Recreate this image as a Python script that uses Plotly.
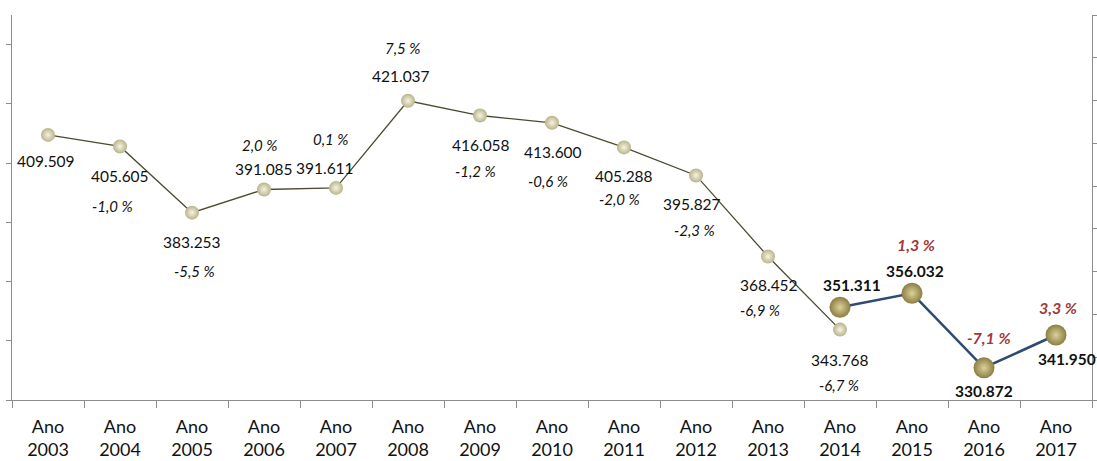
import plotly.graph_objects as go

# ---- data ----
categories = ["Ano<br>%d" % y for y in range(2003, 2018)]
s1_years = categories[:12]
s1_values = [409509, 405605, 383253, 391085, 391611, 421037, 416058, 413600,
             405288, 395827, 368452, 343768]
s1_pct = [None, -1.0, -5.5, 2.0, 0.1, 7.5, -1.2, -0.6, -2.0, -2.3, -6.9, -6.7]
s2_years = categories[11:]
s2_values = [351311, 356032, 330872, 341950]
s2_pct = [None, 1.3, -7.1, 3.3]

# ---- label placement (pixel offsets: (xshift, yshift)), style only ----
s1_val_off = [(-2, -26), (0, -30), (0, -29), (0, 20), (-11, 20), (-7, 25),
              (1, -29), (1, -29), (0, -29), (-4, -29), (1, -28), (0, -30)]
s1_pct_off = [None, (-8, -60), (2, -58), (-5, 44), (-6, 49), (-6, 53),
              (-5, -55), (-4, -58), (-5, -52), (-2, -55), (-8, -53), (-1, -55)]
s2_val_off = [(12, 22), (3, 22), (0, -23), (11, -24)]
s2_pct_off = [None, (4, 49), (5, 30), (2, 27)]

FONT = "Lato"
RED = "#a0393a"


def fmt_val(v):
    return "{:,}".format(v).replace(",", ".")


def fmt_pct(p):
    return ("%.1f" % p).replace(".", ",") + " %"


fig = go.Figure()
fig.add_trace(go.Scatter(
    x=s1_years, y=s1_values, mode="lines+markers",
    line=dict(color="#4d4a30", width=1.3),
    marker=dict(size=14, color="#b9b38a",
                gradient=dict(type="radial", color="#f6f3e2")),
    hoverinfo="skip", showlegend=False))
fig.add_trace(go.Scatter(
    x=s2_years, y=s2_values, mode="lines+markers", yaxis="y2",
    line=dict(color="#2f4b73", width=2.6),
    marker=dict(size=21, color="#8a7e44",
                gradient=dict(type="radial", color="#dcd196")),
    hoverinfo="skip", showlegend=False))

ann = []
for x, v, p, vo, po in zip(s1_years, s1_values, s1_pct, s1_val_off, s1_pct_off):
    ann.append(dict(x=x, y=v, xref="x", yref="y", text=fmt_val(v), showarrow=False,
                    xshift=vo[0], yshift=vo[1],
                    font=dict(family=FONT, size=15.5, color="#111")))
    if p is not None:
        ann.append(dict(x=x, y=v, xref="x", yref="y", text="<i>%s</i>" % fmt_pct(p),
                        showarrow=False, xshift=po[0], yshift=po[1],
                        font=dict(family=FONT, size=15, color="#111")))
for x, v, p, vo, po in zip(s2_years, s2_values, s2_pct, s2_val_off, s2_pct_off):
    ann.append(dict(x=x, y=v, xref="x", yref="y2", text="<b>%s</b>" % fmt_val(v),
                    showarrow=False, xshift=vo[0], yshift=vo[1],
                    font=dict(family=FONT, size=15.5, color="#111")))
    if p is not None:
        ann.append(dict(x=x, y=v, xref="x", yref="y2", text="<b><i>%s</i></b>" % fmt_pct(p),
                        showarrow=False, xshift=po[0], yshift=po[1],
                        font=dict(family=FONT, size=16, color=RED)))

AX = "#8c8c8c"
fig.update_layout(
    width=1097, height=461,
    margin=dict(l=12, r=5, t=15, b=61),
    paper_bgcolor="white", plot_bgcolor="white",
    annotations=ann,
    xaxis=dict(type="category", categoryorder="array", categoryarray=categories,
               range=[-0.5, 14.5], showline=True, linecolor=AX, linewidth=1,
               ticks="outside", ticklen=7, tickcolor=AX, tickson="boundaries",
               ticklabelstandoff=10, automargin=False,
               showgrid=False, zeroline=False,
               tickfont=dict(family=FONT, size=18, color="#111")),
    yaxis=dict(range=[320000, 450000], tick0=320000, dtick=20000, automargin=False,
               showline=True, linecolor=AX, ticks="outside", ticklen=5, tickcolor=AX,
               showticklabels=False, showgrid=False, zeroline=False),
    yaxis2=dict(range=[320000, 450000], tick0=320000, dtick=130000 / 9,
                overlaying="y", side="right", automargin=False,
                showline=True, linecolor=AX, ticks="outside", ticklen=4, tickcolor=AX,
                showticklabels=False, showgrid=False, zeroline=False),
)

fig.write_html("out.html")
